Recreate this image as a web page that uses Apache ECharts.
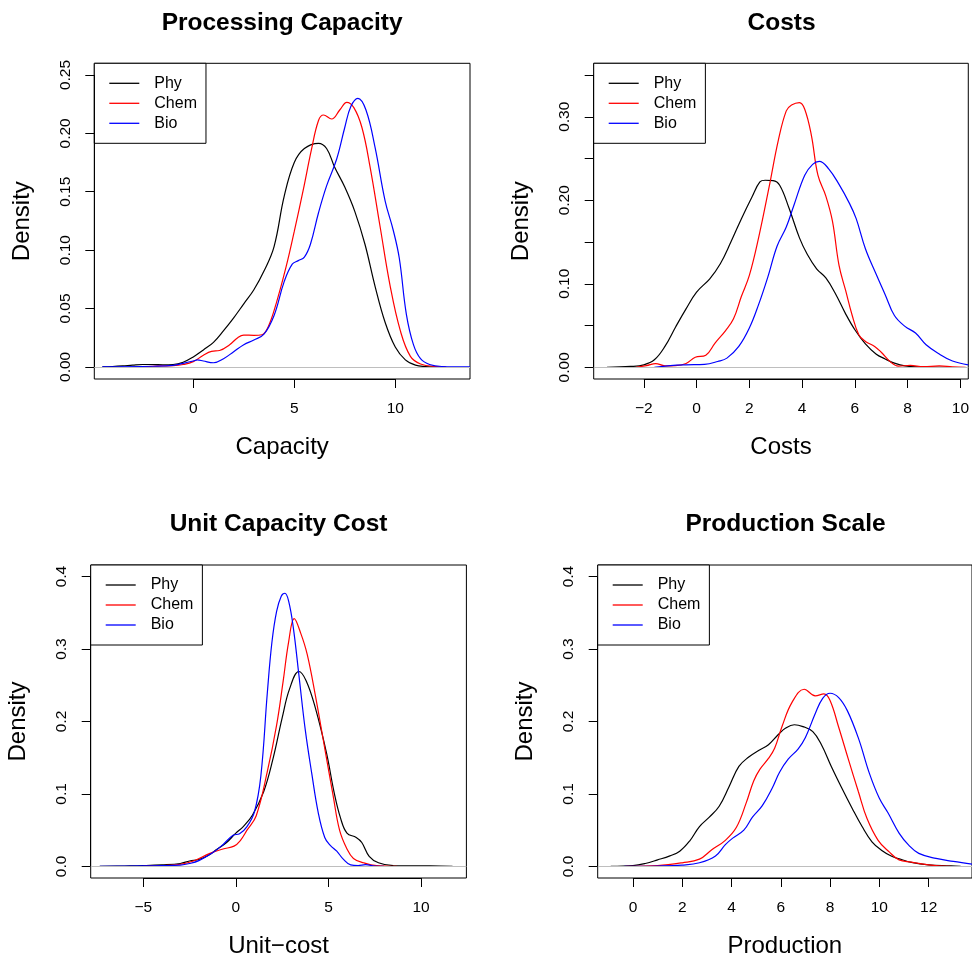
<!DOCTYPE html>
<html>
<head>
<meta charset="utf-8">
<script src="https://cdn.jsdelivr.net/npm/echarts@6/dist/echarts.min.js"></script>
<style>
html, body { margin: 0; padding: 0; background: #ffffff; }
#chart { width: 972px; height: 959px; }
</style>
</head>
<body>
<div id="chart"></div>
<script>
// Kernel density estimates, [x, density] pairs for each group.
const capacityPhy = [[-4.5,0],[-4,0.0003],[-3.5,0.0008],[-3,0.0015],[-2.5,0.002],[-2,0.002],[-1.5,0.0018],[-1,0.002],[-0.5,0.004],[0,0.0085],[0.5,0.0145],[1,0.021],[1.5,0.031],[2,0.042],[2.5,0.054],[3,0.066],[3.5,0.082],[4,0.103],[4.5,0.146],[5,0.175],[5.5,0.187],[6.2,0.1915],[6.6,0.187],[7,0.171],[7.5,0.154],[8,0.133],[8.5,0.105],[9,0.069],[9.5,0.038],[10,0.017],[10.5,0.006],[11,0.0015],[11.5,0.0003],[12,0]];
const capacityChem = [[-2.5,0],[-2,0.0005],[-1.5,0.0008],[-1,0.001],[-0.5,0.002],[0,0.0045],[0.5,0.010],[0.9,0.0133],[1.3,0.014],[1.8,0.019],[2.2,0.025],[2.5,0.0272],[3,0.027],[3.4,0.0275],[3.7,0.034],[4.1,0.054],[4.6,0.086],[5.0,0.116],[5.45,0.152],[5.85,0.186],[6.2,0.211],[6.45,0.2157],[6.85,0.2123],[7.25,0.220],[7.6,0.2266],[7.95,0.222],[8.35,0.205],[8.75,0.1715],[9.25,0.12],[9.75,0.069],[10.25,0.031],[10.75,0.009],[11.25,0.0025],[12,0.0003],[12.5,0]];
const capacityBio = [[-4.5,0],[-2,0.0005],[-1,0.0012],[-0.5,0.003],[0,0.005],[0.2,0.006],[0.5,0.005],[1,0.0035],[1.5,0.007],[2,0.013],[2.5,0.019],[3,0.023],[3.5,0.028],[4,0.044],[4.5,0.073],[4.9,0.088],[5.2,0.091],[5.5,0.094],[5.8,0.105],[6.2,0.132],[6.6,0.155],[7.1,0.178],[7.5,0.205],[7.8,0.223],[8.15,0.230],[8.55,0.220],[9,0.188],[9.5,0.142],[9.9,0.117],[10.2,0.093],[10.55,0.045],[10.9,0.019],[11.25,0.007],[11.7,0.002],[12.3,0.0003],[13.7,0]];

const costsPhy = [[-3.4,0],[-2.5,0.001],[-2,0.003],[-1.6,0.009],[-1.2,0.025],[-0.8,0.048],[-0.4,0.07],[0,0.09],[0.5,0.106],[0.9,0.124],[1.3,0.15],[1.7,0.178],[2.1,0.204],[2.4,0.222],[2.6,0.224],[2.9,0.2235],[3.15,0.218],[3.5,0.191],[3.9,0.155],[4.2,0.135],[4.55,0.118],[4.9,0.107],[5.25,0.089],[5.65,0.064],[6.0,0.045],[6.4,0.028],[6.8,0.016],[7.15,0.010],[7.5,0.005],[7.9,0.0017],[8.5,0.0004],[9.5,0]];
const costsChem = [[-2.3,0],[-1.9,0.002],[-1.55,0.0045],[-1.2,0.0018],[-0.8,0.002],[-0.4,0.0045],[-0.05,0.012],[0.35,0.0145],[0.7,0.029],[1.1,0.044],[1.4,0.058],[1.7,0.085],[2.0,0.11],[2.35,0.155],[2.75,0.216],[3.1,0.272],[3.4,0.307],[3.6,0.314],[3.9,0.317],[4.1,0.309],[4.35,0.278],[4.6,0.23],[4.9,0.205],[5.15,0.175],[5.4,0.122],[5.65,0.092],[5.9,0.062],[6.15,0.039],[6.4,0.031],[6.75,0.025],[7.0,0.018],[7.35,0.0065],[7.65,0.0015],[8.1,0.0022],[8.6,0.0008],[9.2,0.0016],[9.7,0.0005],[10.2,0]];
const costsBio = [[-1.6,0],[-1,0.002],[-0.4,0.003],[0.3,0.0036],[0.8,0.007],[1.15,0.011],[1.6,0.025],[2.0,0.047],[2.35,0.075],[2.7,0.108],[3.05,0.145],[3.4,0.168],[3.7,0.195],[4.1,0.23],[4.4,0.243],[4.65,0.2465],[5.0,0.238],[5.4,0.219],[5.8,0.196],[6.05,0.178],[6.4,0.142],[6.8,0.112],[7.15,0.087],[7.5,0.062],[7.9,0.049],[8.3,0.041],[8.7,0.027],[9.2,0.016],[9.7,0.0075],[10.3,0.003]];

const unitPhy = [[-7.35,0],[-6,0.0005],[-5,0.001],[-4,0.002],[-3,0.004],[-2.5,0.0075],[-2,0.0095],[-1.5,0.015],[-1,0.024],[-0.5,0.033],[0,0.046],[0.4,0.055],[0.9,0.071],[1.5,0.103],[2.0,0.148],[2.5,0.205],[2.9,0.245],[3.4,0.269],[3.8,0.256],[4.3,0.218],[4.9,0.156],[5.3,0.103],[5.65,0.067],[6.0,0.046],[6.5,0.040],[6.8,0.033],[7.2,0.014],[7.7,0.005],[8.5,0.001],[10.5,0.0008],[11.7,0]];
const unitChem = [[-5,0],[-4,0.001],[-3,0.003],[-2.3,0.0075],[-1.4,0.018],[-0.7,0.024],[-0.1,0.028],[0.25,0.036],[0.6,0.05],[1.1,0.07],[1.7,0.131],[2.2,0.195],[2.55,0.255],[2.85,0.31],[3.15,0.342],[3.5,0.322],[3.85,0.293],[4.3,0.235],[4.8,0.163],[5.25,0.098],[5.6,0.05],[6.0,0.024],[6.35,0.011],[6.9,0.005],[7.6,0.001],[8.7,0]];
const unitBio = [[-7.35,0],[-5,0.0008],[-4,0.001],[-3,0.0018],[-2.5,0.004],[-2,0.008],[-1.3,0.018],[-0.7,0.03],[-0.15,0.043],[0.2,0.045],[0.6,0.055],[1.0,0.075],[1.35,0.125],[1.7,0.24],[1.95,0.31],[2.2,0.352],[2.45,0.373],[2.65,0.377],[2.85,0.366],[3.1,0.33],[3.4,0.265],[3.75,0.188],[4.1,0.128],[4.45,0.074],[4.8,0.04],[5.1,0.029],[5.45,0.021],[5.8,0.01],[6.2,0.002],[6.6,0.0012],[7.0,0.0025],[7.5,0.0005],[8,0]];

const productionPhy = [[-0.9,0],[0,0.001],[0.5,0.004],[1.0,0.009],[1.5,0.0145],[1.9,0.021],[2.3,0.035],[2.7,0.055],[3.1,0.068],[3.5,0.083],[3.9,0.11],[4.3,0.138],[4.7,0.151],[5.1,0.16],[5.5,0.168],[5.9,0.182],[6.2,0.191],[6.55,0.1955],[6.9,0.193],[7.3,0.186],[7.65,0.168],[8.05,0.138],[8.45,0.11],[8.9,0.08],[9.3,0.055],[9.7,0.034],[10.1,0.022],[10.5,0.014],[10.9,0.0095],[11.3,0.0055],[12,0.0022],[12.9,0.0008],[13.3,0]];
const productionChem = [[-0.3,0],[1,0.001],[2,0.005],[2.7,0.01],[3.2,0.023],[3.75,0.036],[4.2,0.054],[4.6,0.088],[4.9,0.118],[5.15,0.134],[5.5,0.149],[5.75,0.163],[6.05,0.193],[6.45,0.226],[6.95,0.2445],[7.4,0.2355],[7.75,0.238],[8.0,0.229],[8.35,0.192],[8.75,0.147],[9.15,0.103],[9.5,0.066],[9.95,0.036],[10.4,0.02],[10.8,0.009],[11.3,0.006],[12,0.0022],[12.9,0]];
const productionBio = [[-0.35,0],[1,0.0005],[2,0.0018],[2.7,0.005],[3.35,0.0145],[3.75,0.03],[4.05,0.039],[4.5,0.05],[4.85,0.068],[5.25,0.084],[5.65,0.108],[5.95,0.13],[6.3,0.148],[6.7,0.162],[7.0,0.178],[7.4,0.211],[7.7,0.232],[8.0,0.239],[8.35,0.233],[8.7,0.215],[9.15,0.177],[9.6,0.128],[10.0,0.094],[10.35,0.074],[10.8,0.046],[11.2,0.029],[11.6,0.018],[12.3,0.011],[13,0.007],[13.8,0.003]];

// Tick positions for each panel.
const capacityXTicks = [0, 5, 10];
const capacityYTicks = [0, 0.05, 0.10, 0.15, 0.20, 0.25];
const capacityYLabels = [0, 0.05, 0.10, 0.15, 0.20, 0.25];
const costsXTicks = [-2, 0, 2, 4, 6, 8, 10];
const costsYTicks = [0, 0.05, 0.10, 0.15, 0.20, 0.25, 0.30, 0.35];
const costsYLabels = [0, 0.10, 0.20, 0.30];
const unitXTicks = [-5, 0, 5, 10];
const unitYTicks = [0, 0.1, 0.2, 0.3, 0.4];
const productionXTicks = [0, 2, 4, 6, 8, 10, 12];
const productionYTicks = [0, 0.1, 0.2, 0.3, 0.4];

const groupNames = ['Phy', 'Chem', 'Bio'];
const groupColors = ['#000000', '#ff0000', '#0000ff'];

const FONT = 'Liberation Sans, Arial, Helvetica, sans-serif';
const W = 375.7, H = 315.7;

const panels = [
  { title: 'Processing Capacity', xName: 'Capacity', curves: [capacityPhy, capacityChem, capacityBio],
    xTicks: capacityXTicks, yTicks: capacityYTicks, yLabels: capacityYLabels, digits: 2,
    xMin: -4.9, xMax: 13.7, yMin: -0.0104, yMax: 0.26, left: 94.3, top: 63.3 },
  { title: 'Costs', xName: 'Costs', curves: [costsPhy, costsChem, costsBio],
    xTicks: costsXTicks, yTicks: costsYTicks, yLabels: costsYLabels, digits: 2,
    xMin: -3.9, xMax: 10.3, yMin: -0.014, yMax: 0.364, left: 593.7, top: 63.3 },
  { title: 'Unit Capacity Cost', xName: 'Unit\u2212cost', curves: [unitPhy, unitChem, unitBio],
    xTicks: unitXTicks, yTicks: unitYTicks, yLabels: unitYTicks, digits: 1,
    xMin: -7.84, xMax: 12.45, yMin: -0.016, yMax: 0.416, left: 90.7, top: 565 },
  { title: 'Production Scale', xName: 'Production', curves: [productionPhy, productionChem, productionBio],
    xTicks: productionXTicks, yTicks: productionYTicks, yLabels: productionYTicks, digits: 1,
    xMin: -1.43, xMax: 13.76, yMin: -0.016, yMax: 0.416, left: 597.7, top: 565 }
];

const minusSign = s => String(s).replace('-', '\u2212');
const last = a => a[a.length - 1];

const option = {
  animation: false,
  backgroundColor: '#ffffff',
  textStyle: { fontFamily: FONT, color: '#000' },
  title: [], grid: [], xAxis: [], yAxis: [], legend: [], series: []
};

panels.forEach((p, i) => {
  option.title.push({
    text: p.title, left: p.left + W / 2, top: p.top - 53, textAlign: 'center', padding: 0,
    textStyle: { fontFamily: FONT, fontSize: 24.5, fontWeight: 'bold', color: '#000' }
  });
  option.grid.push({
    left: p.left, top: p.top, width: W, height: H,
    show: true, borderColor: '#000', borderWidth: 1, backgroundColor: 'transparent', containLabel: false
  });
  option.xAxis.push({
    type: 'value', gridIndex: i, min: p.xMin, max: p.xMax,
    name: p.xName, nameLocation: 'middle', nameGap: 56,
    nameTextStyle: { fontFamily: FONT, fontSize: 24, color: '#000' },
    axisLine: { show: false, onZero: false },
    axisTick: { show: true, inside: false, length: 9, customValues: p.xTicks, lineStyle: { color: '#000', width: 1 } },
    axisLabel: { show: true, margin: 22, fontSize: 15.5, fontFamily: FONT, color: '#000',
      customValues: p.xTicks, formatter: v => minusSign(v) },
    splitLine: { show: false }
  });
  option.yAxis.push({
    type: 'value', gridIndex: i, min: p.yMin, max: p.yMax,
    name: 'Density', nameLocation: 'middle', nameGap: 60, nameRotate: 90,
    nameTextStyle: { fontFamily: FONT, fontSize: 24, color: '#000' },
    axisLine: { show: false, onZero: false },
    axisTick: { show: true, inside: false, length: 9, customValues: p.yTicks, lineStyle: { color: '#000', width: 1 } },
    axisLabel: { show: true, margin: 21, rotate: 90, fontSize: 15.5, fontFamily: FONT, color: '#000',
      customValues: p.yLabels, formatter: v => Number(v).toFixed(p.digits) },
    splitLine: { show: false }
  });
  option.legend.push({
    orient: 'vertical', left: p.left, top: p.top, data: groupNames, selectedMode: false,
    icon: 'rect', itemWidth: 30, itemHeight: 1.3, itemGap: 4, padding: [12, 9, 12, 15],
    borderColor: '#000', borderWidth: 1, borderRadius: 0, backgroundColor: '#ffffff',
    textStyle: { fontFamily: FONT, fontSize: 16, color: '#000', padding: [0, 0, 0, 10], lineHeight: 16 }
  });
  p.curves.forEach((curve, k) => {
    const s = {
      type: 'line', name: groupNames[k], xAxisIndex: i, yAxisIndex: i, data: curve,
      showSymbol: false, symbol: 'none', smooth: 0.4, clip: true,
      lineStyle: { color: groupColors[k], width: 1.2 }, itemStyle: { color: groupColors[k] },
      silent: true, z: 3
    };
    if (k === 0) {
      // zero reference line, plus axis lines running between the outer ticks
      const axisStyle = { color: '#000', width: 1, type: 'solid' };
      s.markLine = {
        silent: true, symbol: 'none', label: { show: false }, precision: 6,
        lineStyle: { color: '#bebebe', width: 1, type: 'solid' },
        data: [
          { yAxis: 0 },
          [{ coord: [p.xTicks[0], p.yMin], lineStyle: axisStyle }, { coord: [last(p.xTicks), p.yMin] }],
          [{ coord: [p.xMin, p.yTicks[0]], lineStyle: axisStyle }, { coord: [p.xMin, last(p.yTicks)] }]
        ]
      };
    }
    option.series.push(s);
  });
});

const chart = echarts.init(document.getElementById('chart'), null, { renderer: 'canvas' });
chart.setOption(option);
</script>
</body>
</html>
